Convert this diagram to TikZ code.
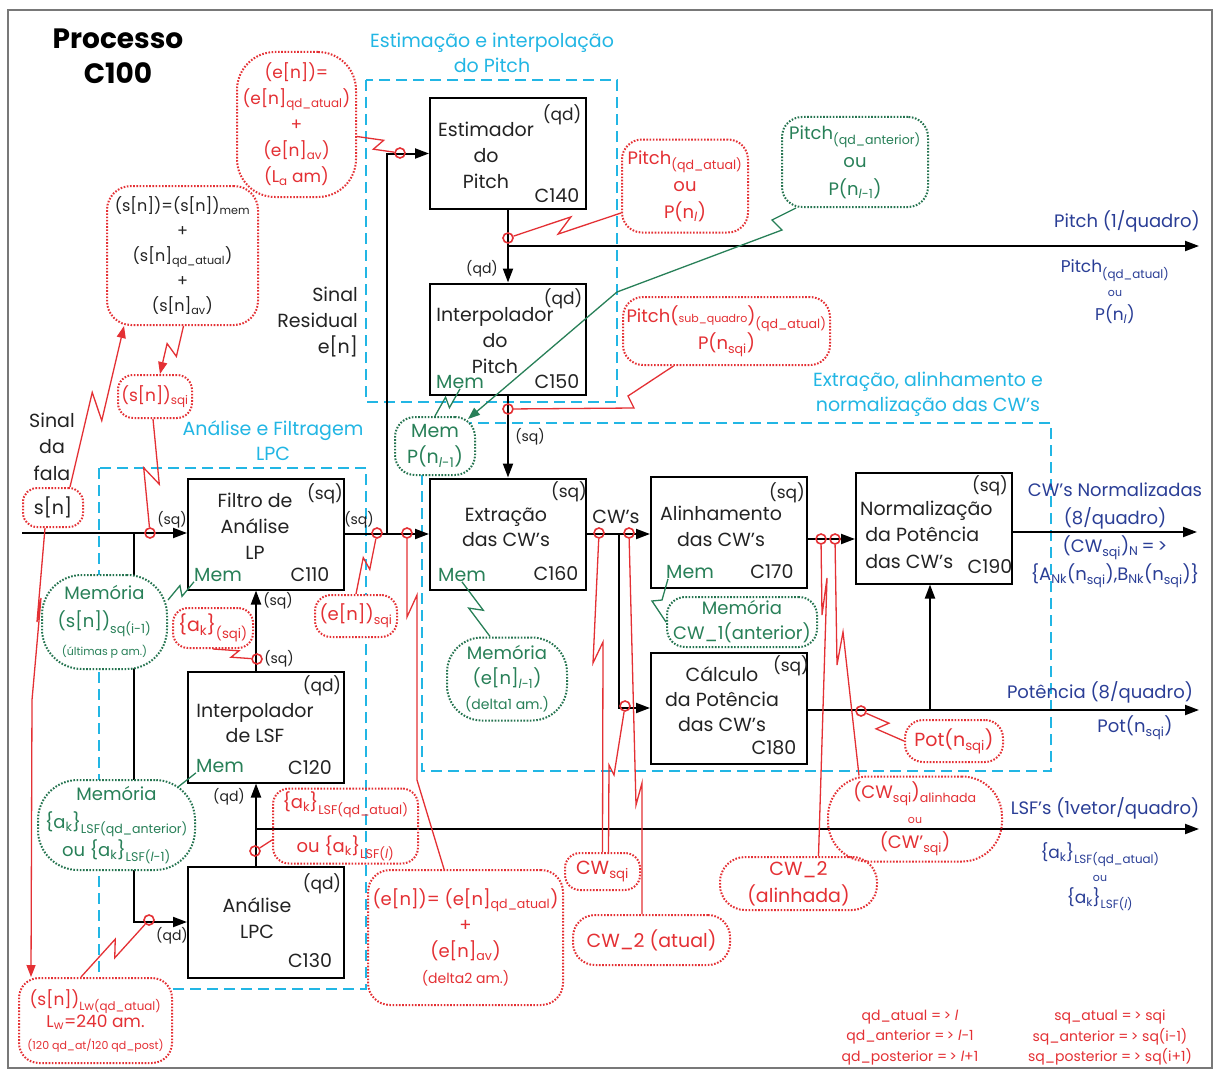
\documentclass[tikz,border=0pt]{standalone}
\usepackage{fontspec}
\setmainfont{Poppins}
\usetikzlibrary{arrows.meta,calc}

\definecolor{rd}{RGB}{228,48,52}
\definecolor{gn}{RGB}{40,128,88}
\definecolor{bl}{RGB}{42,62,150}
\definecolor{cy}{RGB}{34,182,228}
\definecolor{frm}{RGB}{120,120,120}
\definecolor{ink}{RGB}{35,35,35}

\newcommand\FtMain{\fontsize{19}{26}\selectfont}
\newcommand\FtLab{\fontsize{17}{25}\selectfont}
\newcommand\FtSm{\fontsize{14}{18}\selectfont}
\newcommand\FtTiny{\fontsize{11}{14}\selectfont}
\newcommand\FtTitle{\fontsize{28}{35}\selectfont}
\newcommand\qdl{\textit{l}}
\newcommand\ak{\{a\textsubscript{k}\}}

\tikzset{
  every node/.style={font=\FtMain, inner sep=0pt, text=ink},
  blk/.style={draw=black, line width=2pt, minimum width=156pt, minimum height=111pt},
  wire/.style={draw=black, line width=2pt},
  arr/.style={wire, -{Triangle[length=14pt,width=10pt]}},
  sect/.style={draw=cy, line width=2pt, dash pattern=on 11pt off 6pt},
  sectlbl/.style={text=cy, align=center, font=\fontsize{19}{25}\selectfont},
  bub/.style={line width=2pt, dash pattern=on 1.6pt off 1.6pt, align=center,
              font=\fontsize{17}{26}\selectfont},
  rbub/.style={bub, draw=rd, text=rd, fill=white},
  gbub/.style={bub, draw=gn!90!black, text=gn, fill=white},
  probe/.style={circle, draw=rd, line width=1.6pt, minimum size=10pt},
  rl/.style={draw=rd, line width=1.3pt},
  gl/.style={draw=gn, line width=1.3pt},
  rarr/.style={rl, -{Triangle[length=12pt,width=9pt]}},
  garr/.style={gl, -{Triangle[length=12pt,width=9pt]}},
  zz/.style={to path={-- ($(\tikztostart)!0.57!(\tikztotarget)!#1!90:(\tikztotarget)$)
                      -- ($(\tikztostart)!0.43!(\tikztotarget)!#1!-90:(\tikztotarget)$)
                      -- (\tikztotarget)}},
  zz/.default=7pt,
  corner/.style={font=\FtLab},
  mem/.style={text=gn},
  wl/.style={font=\FtSm},
  outl/.style={text=bl, align=center, font=\fontsize{18}{24}\selectfont}
}

\begin{document}
\begin{tikzpicture}[x=1pt,y=-1pt]
\useasboundingbox (0,0) rectangle (1214,1070);
\fill[white] (0,0) rectangle (1214,1070);
\draw[frm, line width=1.5pt] (8,10) rectangle (1212,1068);

% title
\node[font=\FtTitle\bfseries, align=center, text=black] (ttl) at (118,56) {Processo\\C100};

% dashed section frames
\draw[sect] (366,80) rectangle (617,402);
\draw[sect] (99,468) rectangle (366,989);
\draw[sect] (422,423) rectangle (1051,771);
\node[sectlbl] (tp) at (492,52.5) {Estimação e interpolação\\do Pitch};
\node[sectlbl] (tl) at (273,440.5) {Análise e Filtragem\\LPC};
\node[sectlbl] (tc) at (928,394) {Extração, alinhamento e\\normalização das CW’s};

% processing blocks
\node[blk] (c140) at (508,153.5) {};
\node[blk] (c150) at (508,339) {};
\node[blk] (c110) at (266,534) {};
\node[blk] (c120) at (266,727) {};
\node[blk] (c130) at (266,922) {};
\node[blk] (c160) at (508,534) {};
\node[blk] (c170) at (729,532.5) {};
\node[blk] (c180) at (729,708) {};
\node[blk] (c190) at (934,528) {};

% block texts
\node[align=center] (t140) at (486,155) {Estimador\\do\\Pitch};
\node[corner] (q140) at (562,115) {(qd)};
\node (n140) at (557,196) {C140};
\node[align=center] (t150) at (495,341) {Interpolador\\do\\Pitch};
\node[corner] (q150) at (563,299) {(qd)};
\node[mem] (m150) at (460,382) {Mem};
\node (n150) at (557,382) {C150};
\node[align=center] (t110) at (255,526) {Filtro de\\Análise\\LP};
\node[corner] (q110) at (325,494) {(sq)};
\node[mem] (m110) at (218,575) {Mem};
\node (n110) at (310,575) {C110};
\node[corner] (q120) at (322,686) {(qd)};
\node[align=center, font=\fontsize{19}{25}\selectfont] (t120) at (255,723.5) {Interpolador\\de LSF};
\node[mem] (m120) at (220,766) {Mem};
\node (n120) at (310,768) {C120};
\node[corner] (q130) at (322,884) {(qd)};
\node[align=center] (t130) at (257,918) {Análise\\LPC};
\node (n130) at (310,961) {C130};
\node[corner] (q160) at (569,492) {(sq)};
\node[align=center, font=\fontsize{19}{25}\selectfont] (t160) at (506,527.5) {Extração\\das CW’s};
\node[mem] (m160) at (462,575) {Mem};
\node (n160) at (556,574) {C160};
\node[corner] (q170) at (787,493) {(sq)};
\node[align=center] (t170) at (721,526) {Alinhamento\\das CW’s};
\node[mem] (m170) at (690,572) {Mem};
\node (n170) at (772,572) {C170};
\node[align=center, font=\fontsize{19}{25}\selectfont] (t180) at (722,699) {Cálculo\\da Potência\\das CW’s};
\node[corner] (q180) at (791,666) {(sq)};
\node (n180) at (774,748) {C180};
\node[corner] (q190) at (990,486) {(sq)};
\node[align=left, anchor=west, font=\fontsize{19}{26.5}\selectfont] (t190) at (860,534.5) {Normalização\\\ da Potência\\\ das CW’s};
\node (n190) at (990,567) {C190};

% signal wires
\coordinate (in0) at (22,533);
\coordinate (j1) at (134,533);
\coordinate (j2) at (387,534);
\coordinate (j3) at (508,246);
\coordinate (pout) at (1199,246);
\coordinate (j4) at (619,534);
\coordinate (cwout) at (1197,532);
\coordinate (potout) at (1199,710);
\coordinate (j5) at (930,710);
\coordinate (lsfj) at (256,829);
\coordinate (lsfout) at (1199,829);

\draw[arr] (in0) -- (in0 -| c110.west);
\draw[arr] (j1) |- (c130.west);
\draw[arr] (c110.east) -- (c160.west);
\draw[arr] (j2) |- (c140.west);
\draw[arr] (c140.south) -- (c150.north);
\draw[arr] (j3) -- (pout);
\draw[arr] (c150.south) -- (c160.north);
\draw[arr] (c160.east) -- (c160.east -| c170.west);
\draw[arr] (j4) |- (c180.west);
\draw[arr] ([yshift=-6.5pt]c170.east) -- ([yshift=-6.5pt]c170.east -| c190.west);
\draw[arr] (c190.east |- cwout) -- (cwout);
\draw[arr] (c180.east |- potout) -- (potout);
\draw[arr] (j5) -- (j5 |- c190.south);
\draw[arr] (lsfj |- c130.north) -- (lsfj |- c120.south);
\draw[arr] (lsfj) -- (lsfout);
\draw[arr] (lsfj |- c120.north) -- (lsfj |- c110.south);

% wire labels
\node[wl] (w1) at (172,520) {(sq)};
\node[wl] (w2) at (359,520) {(sq)};
\node[wl] (w3) at (482,269) {(qd)};
\node[wl] (w4) at (530,437) {(sq)};
\node[wl] (w5) at (278,601) {(sq)};
\node[wl] (w6) at (279,659) {(sq)};
\node[wl] (w7) at (229,797) {(qd)};
\node[wl] (w8) at (172,936) {(qd)};
\node[font=\fontsize{19}{24}\selectfont] (cwl) at (616,517) {CW’s};

% side texts
\node[align=center, font=\fontsize{19}{26.5}\selectfont] (sdf) at (52,446.5) {Sinal\\da\\fala};
\node[align=right, anchor=east, font=\fontsize{19}{26}\selectfont] (sres) at (358,322) {Sinal\\Residual\\e[n]};

% output texts
\node[outl] (pitchlbl) at (1127,221) {Pitch (1/quadro)};
\node[outl, font=\fontsize{17}{24}\selectfont] (pitchval) at (1115,292) {Pitch\textsubscript{(qd\_atual)}\\{\FtTiny ou}\\P(n\textsubscript{\qdl})};
\node[outl, font=\fontsize{18}{28}\selectfont] (cwn) at (1115,535) {CW’s Normalizadas\\(8/quadro)\\(CW\textsubscript{sqi})\textsubscript{N}\,=\,>\\\{A\textsubscript{Nk}(n\textsubscript{sqi}),B\textsubscript{Nk}(n\textsubscript{sqi})\}};
\node[outl] (potlbl) at (1100,692) {Potência (8/quadro)};
\node[outl] (potval) at (1135,728) {Pot(n\textsubscript{sqi})};
\node[outl] (lsflbl) at (1105,808) {LSF’s (1vetor/quadro)};
\node[outl, font=\fontsize{17}{22.5}\selectfont] (lsfval) at (1100,877) {\ak\textsubscript{LSF(qd\_atual)}\\{\FtTiny ou}\\\ak\textsubscript{LSF(\qdl)}};

% legend
\node[align=center, text=rd, font=\fontsize{14}{20.5}\selectfont] (lg1) at (910,1037.5) {qd\_atual =\,> \qdl\\qd\_anterior =\,> \qdl-1\\qd\_posterior =\,> \qdl+1};
\node[align=center, text=rd, font=\fontsize{14}{20.5}\selectfont] (lg2) at (1110,1037.5) {sq\_atual =\,> sqi\\sq\_anterior =\,> sq(i-1)\\sq\_posterior =\,> sq(i+1)};

% annotation bubbles
\node[rbub, minimum width=119pt, minimum height=145pt, rounded corners=38pt] (etop) at (296.5,124.5)
  {(e[n])=\\(e[n]\textsubscript{qd\_atual})\\+\\(e[n]\textsubscript{av})\\(L\textsubscript{a} am)};
\node[rbub, text=ink, minimum width=151pt, minimum height=139pt, rounded corners=24pt, font=\fontsize{16}{25}\selectfont] (sbig) at (182.5,255.5)
  {(s[n])=(s[n])\textsubscript{mem}\\+\\(s[n]\textsubscript{qd\_atual})\\+\\(s[n]\textsubscript{av})};
\node[rbub, minimum width=74pt, minimum height=43pt, rounded corners=15pt] (ssqi) at (155,396.5) {(s[n])\textsubscript{sqi}};
\node[rbub, text=ink, minimum width=60pt, minimum height=39pt, rounded corners=14pt, font=\fontsize{19}{24}\selectfont] (sin) at (53,507.5) {s[n]};
\node[rbub, minimum width=153pt, minimum height=85pt, rounded corners=20pt, font=\fontsize{17}{22}\selectfont] (slw) at (95.5,1020.5)
  {(s[n])\textsubscript{Lw(qd\_atual)}\\L\textsubscript{w}=240 am.\\{\FtTiny (120 qd\_at/120 qd\_post)}};
\node[rbub, minimum width=80pt, minimum height=40pt, rounded corners=15pt, font=\fontsize{19}{24}\selectfont] (aksqi) at (213,628) {\ak\textsubscript{(sqi)}};
\node[rbub, minimum width=82pt, minimum height=42pt, rounded corners=16pt, font=\fontsize{18}{24}\selectfont] (ensqi) at (356,616) {(e[n])\textsubscript{sqi}};
\node[rbub, fill=none, minimum width=145pt, minimum height=75pt, rounded corners=16pt, font=\fontsize{18}{44}\selectfont] (aklsf) at (345.5,826)
  {\ak\textsubscript{LSF(qd\_atual)}\\ou \ak\textsubscript{LSF(\qdl)}};
\node[rbub, minimum width=195pt, minimum height=135pt, rounded corners=22pt, font=\fontsize{18}{26}\selectfont] (ebot) at (465.5,937.5)
  {(e[n])= (e[n]\textsubscript{qd\_atual})\\+\\(e[n]\textsubscript{av})\\{\FtSm (delta2 am.)}};
\node[rbub, minimum width=126pt, minimum height=93pt, rounded corners=20pt, font=\fontsize{18}{27}\selectfont] (pqa) at (685,186)
  {Pitch\textsubscript{(qd\_atual)}\\ou\\P(n\textsubscript{\qdl})};
\node[gbub, minimum width=146pt, minimum height=90pt, rounded corners=20pt, font=\fontsize{18}{28}\selectfont] (pqant) at (855,162)
  {Pitch\textsubscript{(qd\_anterior)}\\ou\\P(n\textsubscript{\qdl-1})};
\node[rbub, minimum width=207pt, minimum height=68pt, rounded corners=20pt, font=\fontsize{18}{27}\selectfont] (psub) at (726.5,331)
  {Pitch({\FtTiny sub\_quadro})\textsubscript{(qd\_atual)}\\P(n\textsubscript{sqi})};
\node[gbub, minimum width=80pt, minimum height=58pt, rounded corners=20pt, font=\fontsize{19}{26}\selectfont] (memP) at (435,446)
  {Mem\\P(n\textsubscript{\qdl-1})};
\node[gbub, minimum width=125pt, minimum height=94pt, rounded corners=40pt, font=\fontsize{18}{28}\selectfont] (memS) at (104.5,622)
  {Memória\\(s[n])\textsubscript{sq(i-1)}\\{\FtTiny (últimas p am.)}};
\node[gbub, minimum width=157pt, minimum height=90pt, rounded corners=40pt, font=\fontsize{18}{28}\selectfont] (memAK) at (116.5,825)
  {Memória\\\ak\textsubscript{LSF(qd\_anterior)}\\ou \ak\textsubscript{LSF(\qdl-1)}};
\node[gbub, minimum width=120pt, minimum height=83pt, rounded corners=35pt, font=\fontsize{18}{25}\selectfont] (memE) at (507,679)
  {Memória\\(e[n]\textsubscript{\qdl-1})\\{\FtSm (delta1 am.)}};
\node[gbub, minimum width=150pt, minimum height=50pt, rounded corners=18pt, font=\fontsize{18}{25}\selectfont] (memCW) at (742,622)
  {Memória\\CW\_1(anterior)};
\node[rbub, minimum width=75pt, minimum height=37pt, rounded corners=15pt, font=\fontsize{19}{24}\selectfont] (cwsqi) at (602.5,871.5) {CW\textsubscript{sqi}};
\node[rbub, minimum width=157pt, minimum height=50pt, rounded corners=22pt, font=\fontsize{19}{24}\selectfont] (cw2a) at (651.5,940) {CW\_2 (atual)};
\node[rbub, minimum width=157pt, minimum height=53pt, rounded corners=25pt, font=\fontsize{19}{27}\selectfont] (cw2al) at (798.5,883.5) {CW\_2\\(alinhada)};
\node[rbub, fill=none, minimum width=174pt, minimum height=85pt, rounded corners=40pt, font=\fontsize{18}{25}\selectfont] (cwal) at (915,819)
  {(CW\textsubscript{sqi})\textsubscript{alinhada}\\{\FtTiny ou}\\(CW’\textsubscript{sqi})};
\node[rbub, minimum width=98pt, minimum height=42pt, rounded corners=18pt, font=\fontsize{19}{24}\selectfont] (pot) at (954,741) {Pot(n\textsubscript{sqi})};

% probe points
\node[probe] (p1) at (150,533) {};
\node[probe] (p2) at (400,153) {};
\node[probe] (p3) at (508,238) {};
\node[probe] (p4) at (508,409) {};
\node[probe] (p5) at (377,533) {};
\node[probe] (p6) at (407,533) {};
\node[probe] (p7) at (257,659) {};
\node[probe] (p8) at (255,851) {};
\node[probe] (p9) at (149,920) {};
\node[probe] (p10) at (599,533) {};
\node[probe] (p11) at (629,533) {};
\node[probe] (p12) at (625,706) {};
\node[probe] (p13) at (821,539) {};
\node[probe] (p14) at (835,539) {};
\node[probe] (p15) at (861,711) {};

% red probe connectors
\draw[rl] ([yshift=-12pt]etop.east) to[zz=6pt] (p2);
\draw[rl] ([yshift=-27pt]pqa.west) to[zz=7pt] (p3);
\draw[rl] ($(psub.south)+(-53,0)$) -- (628,396) -- (634,408) -- (p4);
\draw[rarr] ($(sin.north east)+(-14,0)$) to[zz=9pt] ($(sbig.south west)+(18,0)$);
\draw[rarr] ($(sbig.south)+(1,0)$) to[zz=7pt] ($(ssqi.north)+(5,0)$);
\draw[rl] ($(ssqi.south)+(-2,0)$) to[zz=8pt] (p1);
\draw[rarr] ($(sin.south)+(-8,0)$) -- (37,622) -- (41,598) -- (32,700) -- ($(slw.north west)+(13,0)$);
\draw[rl] ($(slw.north west)+(63,0)$) to[zz=7pt] (p9);
\draw[rl] (aksqi.south) to[zz=4pt] (p7);
\draw[rl] (ensqi.north) to[zz=5pt] (p5);
\draw[rl] ([yshift=-14pt]aklsf.west) -- (p8);
\draw[rl] (p6) -- (407,617) -- (417,595) -- (417,780) -- ($(ebot.north west)+(77,0)$);
\draw[rl] (p10) -- (593,663) -- (603,642) -- (cwsqi.north);
\draw[rl] (p12) -- (614,775) -- (609,765) -- ($(cwsqi.north)+(6,0)$);
\draw[rl] (p11) -- (636,805) -- (642,783) -- ($(cw2a.north)+(-9.5,0)$);
\draw[rl] (p13) -- (822,615) -- (827,578) -- ($(cw2al.north)+(20,0)$);
\draw[rl] (p14) -- (837,665) -- (843,632) -- ($(cwal.north west)+(32,0)$);
\draw[rl] (p15) to[zz=6pt] (pot.west);

% green memory connectors
\draw[garr] ($(pqant.south west)+(15,0)$) -- (772,220) -- (782,230) -- (617,292) -- ($(memP.north east)+(-8,3)$);
\draw[gl] (m150.south) to[zz=5pt] (memP.north);
\draw[gl] ([yshift=22pt]memS.east) to[zz=5pt] (m110.south west);
\draw[gl] ($(memAK.north east)+(-18,8)$) -- (m120.south west);
\draw[gl] (m160.south) to[zz=6pt] ($(memE.north)+(-17,0)$);
\draw[gl] ($(m170.south)+(-22,0)$) -- (662,600) -- (652,601) -- (memCW.west);
\end{tikzpicture}
\end{document}
